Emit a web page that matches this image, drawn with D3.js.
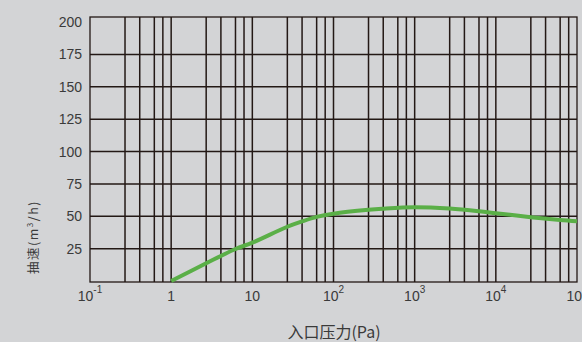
<!DOCTYPE html>
<html><head><meta charset="utf-8">
<script src="https://cdn.jsdelivr.net/npm/d3@7"></script>
<style>
html,body{margin:0;padding:0;background:#d3d4d6;}
svg{display:block;}
text{font-family:"Liberation Sans",Arial,sans-serif;fill:#3a3a3a;}
.cjk{font-family:"Noto Sans CJK SC","Liberation Sans",sans-serif;}
</style></head>
<body>
<script>
// ---- data ----
const pressure = [1, 2.7, 6.2, 10, 27, 41, 62, 100, 270, 400, 1000, 2700, 6200, 10000, 27000, 62000, 100000];
const speed    = [0, 13.7, 24.7, 29.6, 41.9, 46.0, 49.5, 52.0, 55.0, 55.8, 56.9, 55.9, 53.9, 52.4, 49.3, 47.1, 46.1];
const yTicks = [25, 50, 75, 100, 125, 150, 175, 200];
const xExponents = [-1, 0, 1, 2, 3, 4, 5];
const minorMultipliers = [2.7, 4.1, 6.2, 7.9];
const xTitle = "入口压力(Pa)";
const yTitleParts = ["抽速(m", "3", "/h)"];

const W = 582, H = 342;
const svg = d3.select("body").append("svg").attr("width", W).attr("height", H);
const pL = 90, pR = 577, pT = 17, pB = 282;

const x = d3.scaleLog().domain([0.1, 1e5]).range([pL, pR]);
const y = d3.scaleLinear().domain([0, 200]).range([281, 22]);

const gridColor = "#231815";
// vertical grid lines
const vLines = [];
for (let e = -1; e < 5; e++) {
  const base = Math.pow(10, e);
  if (e > -1) vLines.push(base);
  minorMultipliers.forEach(m => vLines.push(base * m));
}
svg.append("g").selectAll("line").data(vLines).join("line")
  .attr("x1", d => x(d)).attr("x2", d => x(d))
  .attr("y1", pT).attr("y2", pB)
  .attr("stroke", gridColor).attr("stroke-width", 1.5);

// horizontal grid lines
svg.append("g").selectAll("line").data(yTicks.filter(d => d < 200)).join("line")
  .attr("x1", pL).attr("x2", pR)
  .attr("y1", d => y(d)).attr("y2", d => y(d))
  .attr("stroke", gridColor).attr("stroke-width", 1.5);

// frame
svg.append("rect").attr("x", pL).attr("y", pT)
  .attr("width", pR - pL).attr("height", pB - pT)
  .attr("fill", "none").attr("stroke", gridColor).attr("stroke-width", 1.3);

// y tick labels
svg.append("g").selectAll("text").data(yTicks).join("text")
  .attr("x", 82).attr("y", d => y(d))
  .attr("text-anchor", "end").attr("dominant-baseline", "central")
  .attr("font-size", 14).text(d => d);

// x tick labels
const xl = svg.append("g").selectAll("text").data(xExponents).join("text")
  .attr("x", d => x(Math.pow(10, d))).attr("y", 301)
  .attr("text-anchor", "middle").attr("font-size", 14);
xl.each(function(d) {
  const t = d3.select(this);
  if (d === 0) { t.text("1"); return; }
  if (d === 1) { t.text("10"); return; }
  t.append("tspan").text("10");
  t.append("tspan").attr("dy", -8).attr("font-size", 10).text(d);
});

// curve
const line = d3.line()
  .x((d, i) => x(pressure[i]))
  .y(d => y(d))
  .curve(d3.curveCatmullRom.alpha(0.5));
svg.append("path").datum(speed).attr("d", line)
  .attr("fill", "none").attr("stroke", "#5aaf47").attr("stroke-width", 4)
  .attr("stroke-linecap", "butt");

// axis titles
svg.append("text").attr("class", "cjk").attr("x", 334).attr("y", 338)
  .attr("text-anchor", "middle").attr("font-size", 16).text(xTitle);

const yt = svg.append("text").attr("class", "cjk")
  .attr("transform", "translate(37.5,237) rotate(-90)")
  .attr("text-anchor", "middle").attr("font-size", 12.5)
  .attr("letter-spacing", 1.5);
yt.append("tspan").text(yTitleParts[0]);
yt.append("tspan").attr("dy", -5).attr("font-size", 8).text(yTitleParts[1]);
yt.append("tspan").attr("dy", 5).text(yTitleParts[2]);
</script>
</body></html>
